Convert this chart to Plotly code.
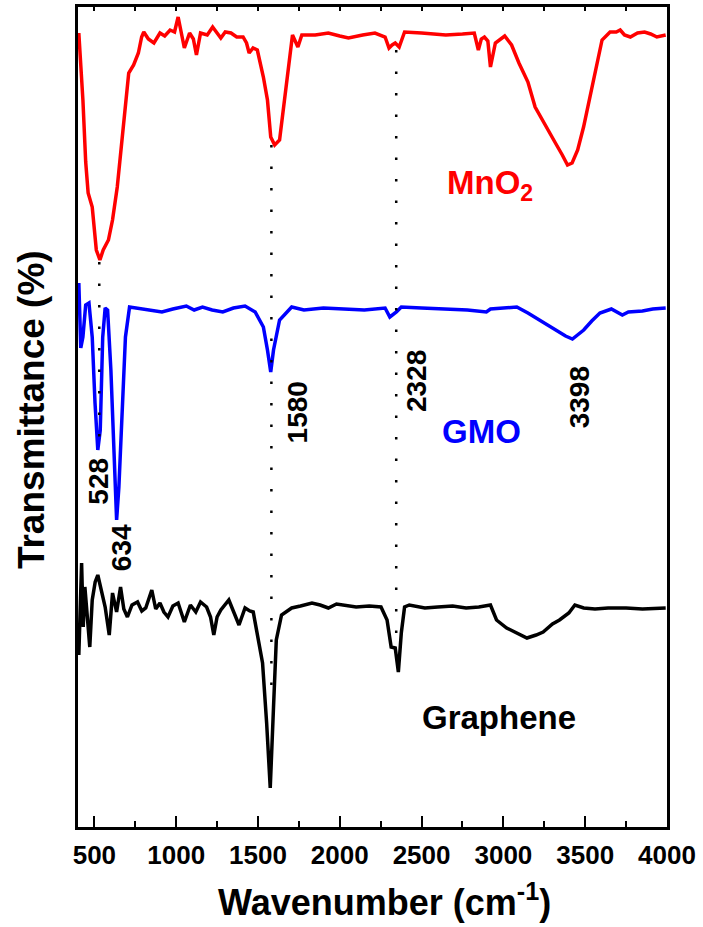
import plotly.graph_objects as go

# ---------------- data (offset transmittance, arbitrary units) ----------------
mno2_wn = [405, 430, 447, 462, 487, 512, 534, 554, 586, 611, 640, 665, 690, 710, 740, 769, 789, 802,
           830, 864, 901, 930, 963, 990, 1012, 1030, 1050, 1082, 1105, 1124, 1149, 1190, 1223, 1250, 1273,
           1300, 1335, 1370, 1409, 1430, 1446, 1470, 1496, 1533, 1558, 1578, 1602, 1632, 1657, 1682, 1711,
           1744, 1768, 1850, 1930, 2000, 2053, 2140, 2215, 2277, 2301, 2320, 2339, 2363, 2396, 2500, 2648,
           2750, 2822, 2847, 2865, 2884, 2905, 2921, 2951, 3008, 3050, 3095, 3150, 3194, 3260, 3318, 3360,
           3392, 3420, 3454, 3490, 3529, 3570, 3603, 3652, 3690, 3714, 3740, 3776, 3820, 3863, 3900, 3938, 3992]
mno2_t = [794, 727, 665, 634, 620, 577, 567, 577, 587, 607, 640, 684, 727, 754, 762, 774, 790, 795,
          788, 784, 794, 791, 797, 795, 810, 793, 779, 794, 788, 772, 794, 792, 800, 794, 789,
          795, 794, 790, 790, 784, 774, 779, 777, 750, 727, 690, 682, 687, 720, 760, 792,
          780, 792, 792, 794, 791, 789, 792, 794, 790, 779, 782, 784, 780, 795, 794, 792,
          793, 794, 777, 788, 790, 786, 760, 784, 791, 782, 764, 745, 720, 700, 684, 672,
          662, 664, 677, 700, 730, 765, 787, 795, 795, 797, 792, 790, 794, 795, 793, 790, 792]

gmo_wn = [405, 417, 430, 447, 467, 487, 504, 521, 536, 551, 566, 581, 601, 621, 636, 650, 670, 690, 715,
          789, 850, 913, 980, 1062, 1110, 1161, 1220, 1285, 1350, 1421, 1483, 1533, 1558, 1578, 1595, 1632,
          1706, 1781, 1900, 2029, 2150, 2277, 2306, 2346, 2376, 2500, 2648, 2780, 2896, 2921, 3000, 3082,
          3150, 3219, 3280, 3343, 3380, 3422, 3491, 3540, 3590, 3660, 3727, 3764, 3850, 3913, 3992]
gmo_t = [544, 479, 490, 522, 524, 490, 424, 377, 397, 490, 519, 517, 457, 357, 307, 340, 424, 490, 520,
         518, 516, 515, 518, 521, 517, 520, 517, 515, 519, 521, 515, 500, 477, 455, 477, 507,
         520, 517, 519, 518, 517, 519, 510, 515, 520, 519, 518, 517, 515, 518, 519, 520,
         514, 507, 501, 495, 491, 488, 497, 506, 514, 518, 512, 515, 516, 518, 519]

gr_wn = [405, 412, 422, 432, 442, 457, 472, 487, 505, 521, 541, 566, 591, 611, 636, 660, 680, 702, 730,
         764, 790, 814, 851, 875, 901, 925, 950, 980, 1012, 1050, 1087, 1120, 1149, 1186, 1210, 1230, 1250,
         1273, 1322, 1350, 1384, 1421, 1450, 1471, 1503, 1528, 1553, 1575, 1595, 1612, 1644, 1706, 1760,
         1830, 1880, 1930, 1980, 2029, 2100, 2180, 2252, 2289, 2314, 2339, 2358, 2376, 2396, 2425, 2520,
         2599, 2690, 2772, 2850, 2921, 2958, 3020, 3080, 3144, 3200, 3243, 3300, 3343, 3400, 3437, 3491,
         3560, 3640, 3750, 3850, 3992]
gr_t = [172, 220, 264, 200, 240, 210, 180, 227, 245, 252, 237, 220, 192, 234, 215, 240, 218, 210, 222,
        225, 216, 219, 237, 218, 224, 215, 210, 221, 224, 205, 222, 215, 225, 220, 210, 192, 210,
        217, 227, 215, 202, 219, 216, 215, 187, 164, 104, 39, 120, 187, 212, 219, 221,
        224, 222, 219, 223, 222, 220, 221, 220, 207, 180, 179, 155, 194, 220, 222, 219,
        220, 221, 219, 220, 222, 207, 199, 194, 189, 192, 195, 203, 207, 214, 222, 219,
        218, 219, 219, 218, 219]

# dotted guide lines: (wavenumber, top, bottom)
guide_wn = [530, 1582, 2345]
guide_top = [565, 682, 777]
guide_bottom = [380, 135, 185]

peak_labels = ["528", "634", "1580", "2328", "3398"]
peak_label_wn = [520, 664, 1741, 2466, 3464]
peak_label_y = [346, 279, 415, 446, 430]

series_names = ["MnO<sub>2</sub>", "GMO", "Graphene"]
series_colors = ["#ff0000", "#0000ff", "#000000"]
series_label_wn = [2916, 2867, 2971]
series_label_y = [642, 396, 110]

x_ticks = [500, 1000, 1500, 2000, 2500, 3000, 3500, 4000]

FONT = "Liberation Sans, Arial, sans-serif"

fig = go.Figure()

for wn, t, c in [(mno2_wn, mno2_t, series_colors[0]),
                 (gmo_wn, gmo_t, series_colors[1]),
                 (gr_wn, gr_t, series_colors[2])]:
    fig.add_trace(go.Scatter(x=wn, y=t, mode="lines",
                             line=dict(color=c, width=3.5, shape="linear"),
                             showlegend=False, hoverinfo="skip"))

for gx, gt, gb in zip(guide_wn, guide_top, guide_bottom):
    fig.add_trace(go.Scatter(x=[gx, gx], y=[gt, gb], mode="lines",
                             line=dict(color="black", width=2.5, dash="2.5px,19px"),
                             showlegend=False, hoverinfo="skip"))

# invisible trace on top axis for mirrored ticks
fig.add_trace(go.Scatter(x=[400, 4000], y=[0, 0], xaxis="x2", mode="markers",
                         marker=dict(opacity=0), showlegend=False, hoverinfo="skip"))

for lab, lx, ly in zip(peak_labels, peak_label_wn, peak_label_y):
    fig.add_annotation(x=lx, y=ly, text=lab, textangle=-90, showarrow=False,
                       font=dict(family=FONT, size=28, color="black", weight="bold"),
                       xanchor="center", yanchor="middle")

for name, col, lx, ly in zip(series_names, series_colors, series_label_wn, series_label_y):
    fig.add_annotation(x=lx, y=ly, text=name, showarrow=False,
                       font=dict(family=FONT, size=33, color=col, weight="bold"),
                       xanchor="center", yanchor="middle")

# axis titles
fig.add_annotation(xref="paper", yref="paper", x=0.521, y=-0.089,
                   text="Wavenumber (cm<sup>-1</sup>)", showarrow=False,
                   font=dict(family=FONT, size=36, color="black", weight="bold"),
                   xanchor="center", yanchor="middle")
fig.add_annotation(xref="paper", yref="paper", x=-0.079, y=0.509,
                   text="Transmittance (%)", textangle=-90, showarrow=False,
                   font=dict(family=FONT, size=37, color="black", weight="bold"),
                   xanchor="center", yanchor="middle")

fig.update_layout(
    width=703, height=927,
    margin=dict(l=78, r=34, t=7, b=100),
    paper_bgcolor="white", plot_bgcolor="white",
    xaxis=dict(range=[400, 4000], tickvals=x_ticks, ticks="inside", ticklen=11, tickwidth=2,
               tickcolor="black", showline=True, linecolor="black", linewidth=2.5,
               showgrid=False, zeroline=False,
               minor=dict(dtick=250, tick0=250, ticks="inside", ticklen=6, tickwidth=2,
                          tickcolor="black", showgrid=False),
               tickfont=dict(family=FONT, size=26, color="black", weight="bold"),
               ticklabelstandoff=3),
    xaxis2=dict(range=[400, 4000], overlaying="x", side="top", tickvals=list(range(500, 4001, 250)),
                ticks="inside", ticklen=4, tickwidth=2, tickcolor="black", showticklabels=False,
                showline=True, linecolor="black", linewidth=2.5, showgrid=False, zeroline=False),
    yaxis=dict(range=[0, 820], showticklabels=False, ticks="", showline=True, mirror=True,
               linecolor="black", linewidth=2.5, showgrid=False, zeroline=False),
)

fig.write_html("out.html")
